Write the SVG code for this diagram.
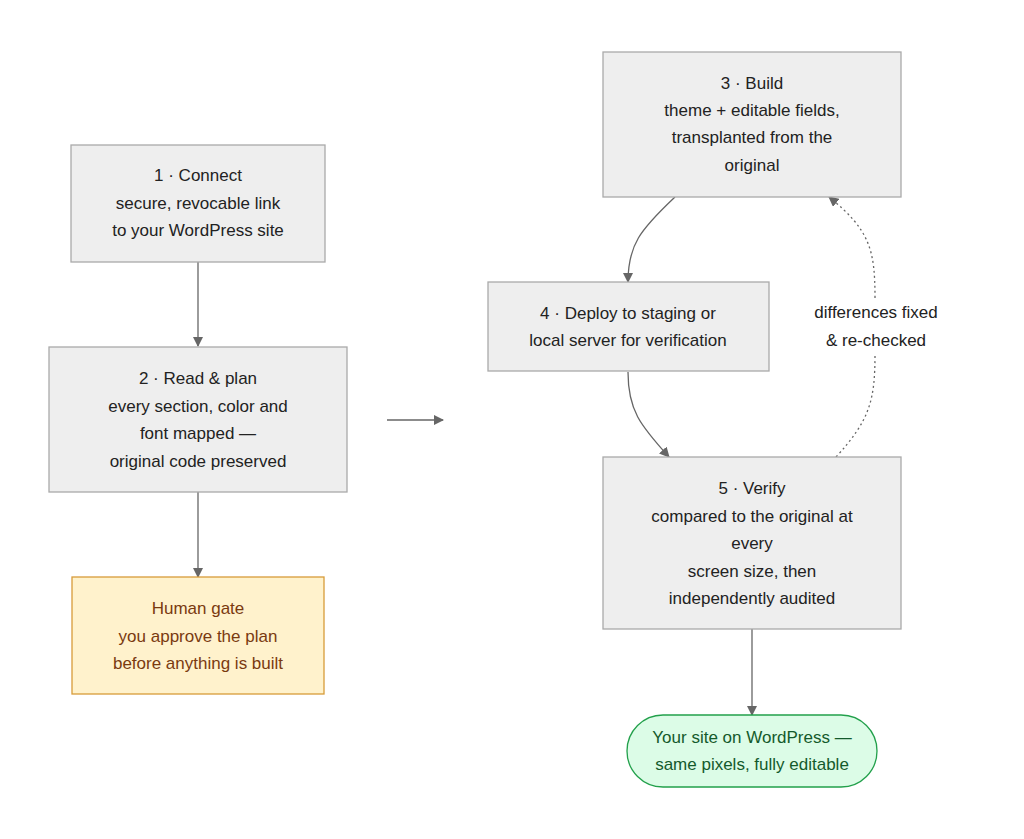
<svg xmlns="http://www.w3.org/2000/svg" width="1024" height="839" viewBox="0 0 1024 839">
<style>
text{font-family:"Liberation Sans",Arial,sans-serif;font-size:17px;fill:#222;text-anchor:middle}
.n{fill:#eeeeee;stroke:#aaaaaa;stroke-width:1.3}
.e{fill:none;stroke:#666;stroke-width:1.3}
.d{stroke-dasharray:2,3}
</style>
<defs><marker id="a" viewBox="0 0 10 10" refX="9" refY="5" markerWidth="8" markerHeight="8" orient="auto"><path d="M0,0L10,5L0,10z" fill="#666"/></marker></defs>
<rect width="1024" height="839" fill="#fff"/>
<g id="connectors">
<path class="e" d="M198,262V346" marker-end="url(#a)"/>
<path class="e" d="M198,492V577" marker-end="url(#a)"/>
<path class="e" d="M387,420H443" marker-end="url(#a)"/>
<path class="e" d="M675,197C640,230 628,245 628,282" marker-end="url(#a)"/>
<path class="e" d="M628,372C628,410 640,425 669,457" marker-end="url(#a)"/>
<path class="e d" d="M836,457C870,420 875,400 875,354"/>
<path class="e d" d="M875,298C875,250 870,230 829,197" marker-end="url(#a)"/>
<path class="e" d="M752,629V715" marker-end="url(#a)"/>
<text x="876" y="318">differences fixed</text>
<text x="876" y="346">&amp; re-checked</text>
</g>
<g id="n1"><rect class="n" x="71" y="145" width="254" height="117"/>
<text x="198" y="181">1 · Connect</text><text x="198" y="209">secure, revocable link</text><text x="198" y="236">to your WordPress site</text></g>
<g id="n2"><rect class="n" x="49" y="347" width="298" height="145"/>
<text x="198" y="384">2 · Read &amp; plan</text><text x="198" y="412">every section, color and</text><text x="198" y="439">font mapped —</text><text x="198" y="467">original code preserved</text></g>
<g id="gate"><rect x="72" y="577" width="252" height="117" fill="#fff2cc" stroke="#d79b3a" stroke-width="1.3"/>
<text x="198" y="614" style="fill:#7a3a10">Human gate</text><text x="198" y="642" style="fill:#7a3a10">you approve the plan</text><text x="198" y="669" style="fill:#7a3a10">before anything is built</text></g>
<g id="n3"><rect class="n" x="603" y="52" width="298" height="145"/>
<text x="752" y="89">3 · Build</text><text x="752" y="116">theme + editable fields,</text><text x="752" y="143">transplanted from the</text><text x="752" y="171">original</text></g>
<g id="n4"><rect class="n" x="488" y="282" width="281" height="89"/>
<text x="628" y="319">4 · Deploy to staging or</text><text x="628" y="346">local server for verification</text></g>
<g id="n5"><rect class="n" x="603" y="457" width="298" height="172"/>
<text x="752" y="494">5 · Verify</text><text x="752" y="522">compared to the original at</text><text x="752" y="549">every</text><text x="752" y="577">screen size, then</text><text x="752" y="604">independently audited</text></g>
<g id="end"><rect x="627" y="715" width="250" height="72" rx="36" fill="#dcfce7" stroke="#22a04b" stroke-width="1.3"/>
<text x="752" y="743" style="fill:#145a2c">Your site on WordPress —</text><text x="752" y="770" style="fill:#145a2c">same pixels, fully editable</text></g>
</svg>
